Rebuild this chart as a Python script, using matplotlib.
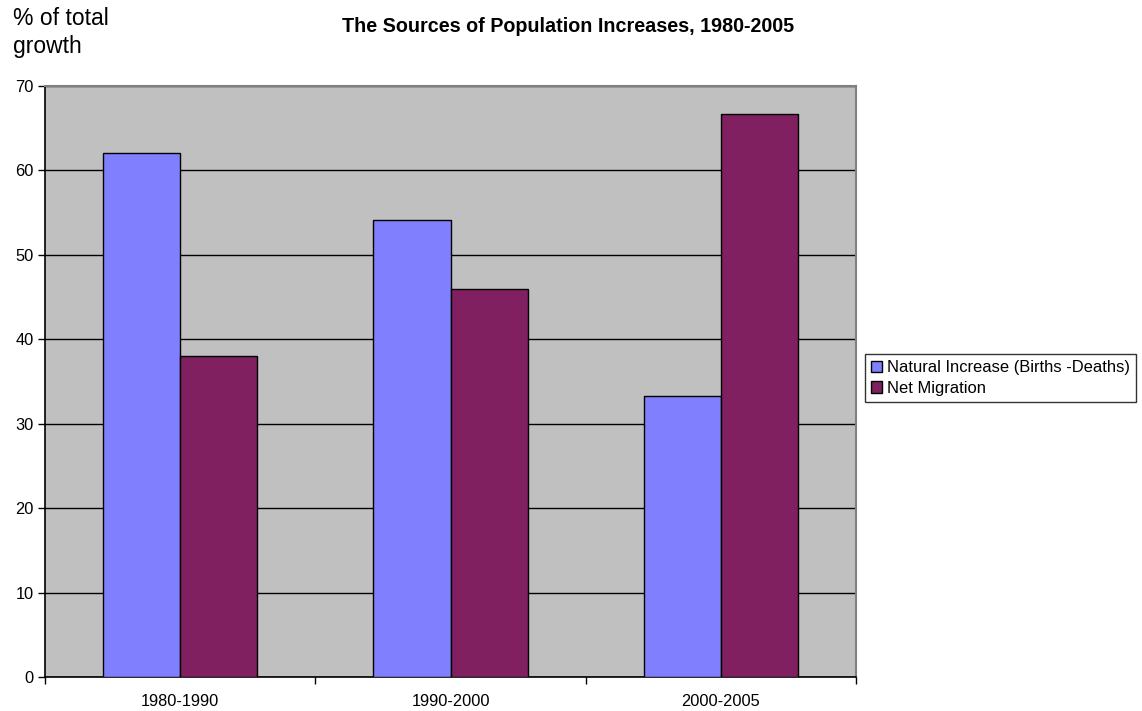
import numpy as np
import matplotlib
matplotlib.use("Agg")
import matplotlib.pyplot as plt

plt.rcParams['font.family'] = ['Liberation Sans', 'DejaVu Sans']

periods = ["1980-1990", "1990-2000", "2000-2005"]
natural_increase = [62.0, 54.1, 33.3]
net_migration = [38.0, 45.9, 66.7]
series_names = ["Natural Increase (Births -Deaths)", "Net Migration"]

fig = plt.figure(figsize=(11.42, 7.11), dpi=100)
ax = fig.add_axes([0.0394, 0.0478, 0.7102, 0.8317])
ax.set_facecolor('#c0c0c0')

x = np.arange(len(periods))
w = 0.285
ax.bar(x - w / 2, natural_increase, w, color='#8080ff', edgecolor='black',
       linewidth=1, label=series_names[0], zorder=3)
ax.bar(x + w / 2, net_migration, w, color='#802060', edgecolor='black',
       linewidth=1, label=series_names[1], zorder=3)

ax.set_xlim(-0.5, len(periods) - 0.5)
ax.set_ylim(0, 70)
ax.set_yticks(range(0, 71, 10))
ax.yaxis.grid(True, color='black', linewidth=1, zorder=1)
ax.set_axisbelow(True)

# category labels centred, ticks on the boundaries
ax.set_xticks(x)
ax.set_xticklabels(periods, fontsize=11.8)
ax.tick_params(axis='x', length=0, pad=12)
ax.set_xticks(np.arange(-0.5, len(periods)), minor=True)
ax.tick_params(axis='x', which='minor', length=5, width=1, direction='out')
ax.tick_params(axis='y', length=5, width=1, direction='out', labelsize=11.8, pad=3)

for side in ['top', 'right']:
    ax.spines[side].set_color('#808080')
    ax.spines[side].set_linewidth(1.5)
for side in ['left', 'bottom']:
    ax.spines[side].set_color('black')
    ax.spines[side].set_linewidth(1.2)

fig.text(568 / 1142, 1 - 27 / 711, "The Sources of Population Increases, 1980-2005",
         ha='center', va='center', fontsize=14.2, fontweight='bold')
fig.text(13 / 1142, 1 - 7 / 711, "% of total\ngrowth", ha='left', va='top',
         fontsize=16.5, linespacing=1.3)

leg = ax.legend(loc='center left', bbox_to_anchor=(865 / 1142, 1 - 378 / 711),
                bbox_transform=fig.transFigure, fontsize=11.9, frameon=True,
                fancybox=False, edgecolor='black', handlelength=0.7,
                handleheight=0.7, handletextpad=0.3, borderpad=0.35,
                labelspacing=0.35, borderaxespad=0)
leg.get_frame().set_linewidth(1)

fig.savefig("out.png", dpi=100)
